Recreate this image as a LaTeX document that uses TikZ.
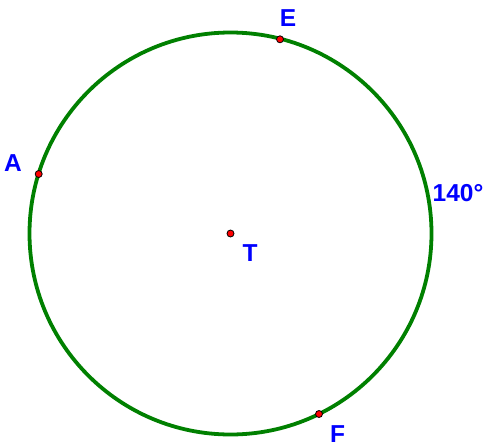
\documentclass[tikz,border=0pt]{standalone}
\usepackage{fontspec}
\setmainfont{Liberation Sans}
\begin{document}
\begin{tikzpicture}[x=1pt,y=-1pt,
  lbl/.style={text=blue,font=\fontsize{24.5}{24.5}\selectfont\bfseries,inner sep=0pt},
  pt/.style={circle,fill=red,draw=black,line width=0.8pt,minimum size=7pt,inner sep=0pt},
  circ/.style={draw={rgb,255:red,0;green,128;blue,0},line width=3.8pt}]
\useasboundingbox (0,0) rectangle (486,447);
\coordinate (T) at (230.5,233.5);
\draw[circ] (T) circle[radius=201];
\node[pt] (pT) at (T) {};
\node[pt] (pA) at (38.7,174) {};
\node[pt] (pE) at (280,39.3) {};
\node[pt] (pF) at (319,414) {};
\node[lbl] (lT) at (250,253) {T};
\node[lbl] (lA) at (13,163) {A};
\node[lbl] (lE) at (288,18) {E};
\node[lbl] (lF) at (337.5,434.5) {F};
\node[lbl] (l140) at (458,193) {140°};
\end{tikzpicture}
\end{document}
